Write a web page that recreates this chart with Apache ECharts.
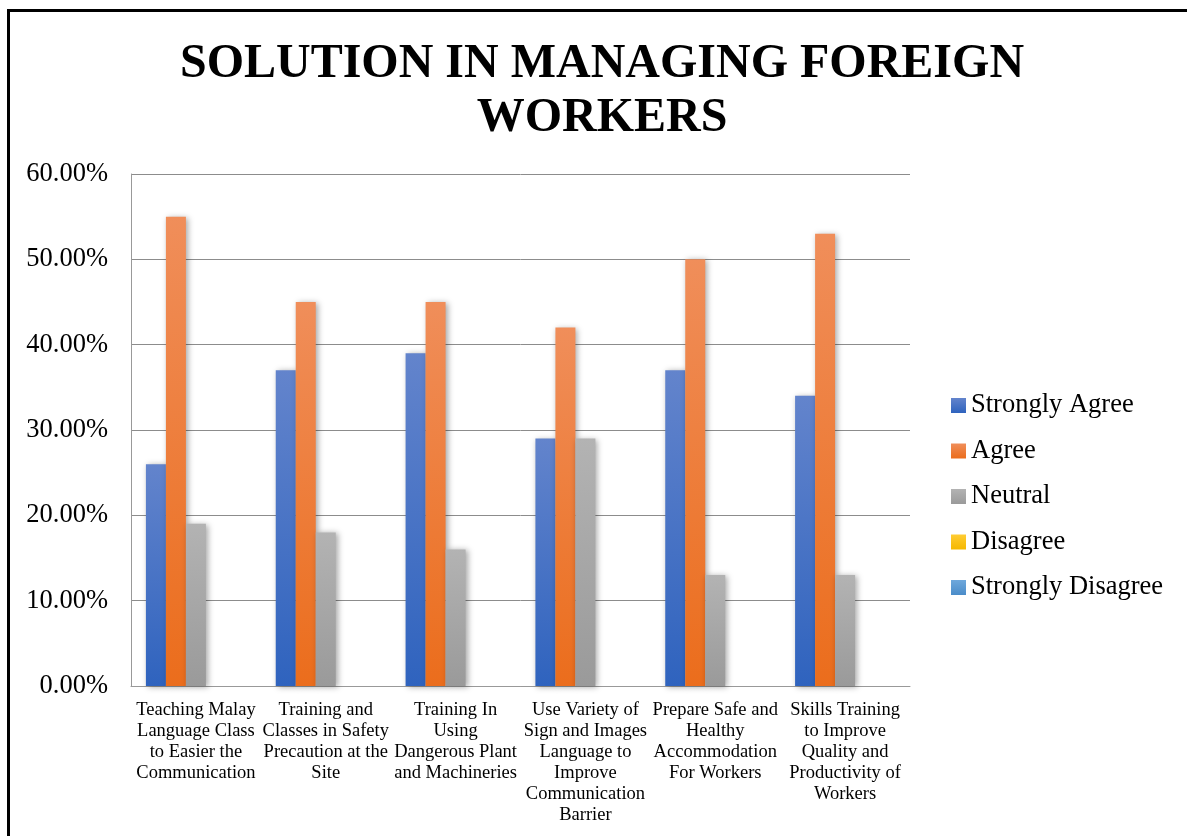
<!DOCTYPE html>
<html>
<head>
<meta charset="utf-8">
<title>Solution in Managing Foreign Workers</title>
<script src="https://cdn.jsdelivr.net/npm/echarts@6/dist/echarts.min.js"></script>
<style>
  html, body { margin: 0; padding: 0; background: #fff; }
  #chart { width: 1187px; height: 836px; }
</style>
</head>
<body>
<div id="chart"></div>
<script>
// categories (line breaks as in the original chart)
const categories = [
  "Teaching Malay\nLanguage Class\nto Easier the\nCommunication",
  "Training and\nClasses in Safety\nPrecaution at the\nSite",
  "Training In\nUsing\nDangerous Plant\nand Machineries",
  "Use Variety of\nSign and Images\nLanguage to\nImprove\nCommunication\nBarrier",
  "Prepare Safe and\nHealthy\nAccommodation\nFor Workers",
  "Skills Training\nto Improve\nQuality and\nProductivity of\nWorkers"
];

// values in percent
const stronglyAgree = [26, 37, 39, 29, 37, 34];
const agree = [55, 45, 45, 42, 50, 53];
const neutral = [19, 18, 16, 29, 13, 13];
const disagree = [0, 0, 0, 0, 0, 0];
const stronglyDisagree = [0, 0, 0, 0, 0, 0];

const yTicks = [0, 10, 20, 30, 40, 50, 60];

const serif = "'Liberation Serif', 'DejaVu Serif', serif";

// excel-ish vertical gradient for bars
function grad(top, bottom) {
  return new echarts.graphic.LinearGradient(0, 0, 0, 1, [
    { offset: 0, color: top },
    { offset: 1, color: bottom }
  ]);
}

function barSeries(name, data, top, bottom) {
  return {
    name: name,
    type: 'bar',
    data: data,
    barWidth: 20,
    barGap: '0%',
    itemStyle: {
      color: grad(top, bottom),
      shadowBlur: 6,
      shadowColor: 'rgba(0,0,0,0.35)',
      shadowOffsetX: 2,
      shadowOffsetY: 1
    }
  };
}

const chart = echarts.init(document.getElementById('chart'), null, { renderer: 'canvas' });

chart.setOption({
  backgroundColor: '#fff',
  animation: false,
  title: {
    text: 'SOLUTION IN MANAGING FOREIGN\nWORKERS',
    left: 597,
    textAlign: 'center',
    top: 33,
    textStyle: {
      fontFamily: serif,
      fontWeight: 'bold',
      fontSize: 48,
      lineHeight: 54,
      color: '#000'
    }
  },
  graphic: [
    {
      type: 'rect',
      shape: { x: 8.5, y: 10.5, width: 1200, height: 900 },
      style: { fill: null, stroke: '#000', lineWidth: 3 },
      silent: true
    }
  ],
  legend: {
    orient: 'vertical',
    left: 946,
    top: 387,
    icon: 'rect',
    itemWidth: 15,
    itemHeight: 15,
    itemGap: 18.5,
    textStyle: { fontFamily: serif, fontSize: 26.5, lineHeight: 26.5, color: '#000' },
    data: ['Strongly Agree', 'Agree', 'Neutral', 'Disagree', 'Strongly Disagree']
  },
  grid: { left: 131, right: 277, top: 174, bottom: 150, containLabel: false },
  xAxis: {
    type: 'category',
    data: categories,
    axisLine: { show: true, lineStyle: { color: '#999', width: 1 } },
    axisTick: { show: false },
    axisLabel: {
      interval: 0,
      margin: 14,
      fontFamily: serif,
      fontSize: 18.5,
      lineHeight: 21,
      color: '#000',
      align: 'center'
    }
  },
  yAxis: {
    type: 'value',
    min: yTicks[0],
    max: yTicks[yTicks.length - 1],
    interval: 10,
    axisLine: { show: true, lineStyle: { color: '#999', width: 1 } },
    axisTick: { show: false },
    splitLine: { show: true, lineStyle: { color: '#8c8c8c', width: 1 } },
    axisLabel: {
      margin: 23,
      fontFamily: serif,
      fontSize: 26.5,
      color: '#000',
      formatter: function (v) { return v.toFixed(2) + '%'; }
    }
  },
  series: [
    barSeries('Strongly Agree', stronglyAgree, '#6384cc', '#2f63be'),
    barSeries('Agree', agree, '#f08e5a', '#eb6d1c'),
    barSeries('Neutral', neutral, '#b3b3b3', '#9a9a9a'),
    {
      name: 'Disagree', type: 'bar', data: disagree, barWidth: 20, barGap: '0%',
      itemStyle: { color: grad('#ffcc33', '#f5b800') }
    },
    {
      name: 'Strongly Disagree', type: 'bar', data: stronglyDisagree, barWidth: 20, barGap: '0%',
      itemStyle: { color: grad('#6fa8dc', '#4a8cc9') }
    }
  ]
});
</script>
</body>
</html>
